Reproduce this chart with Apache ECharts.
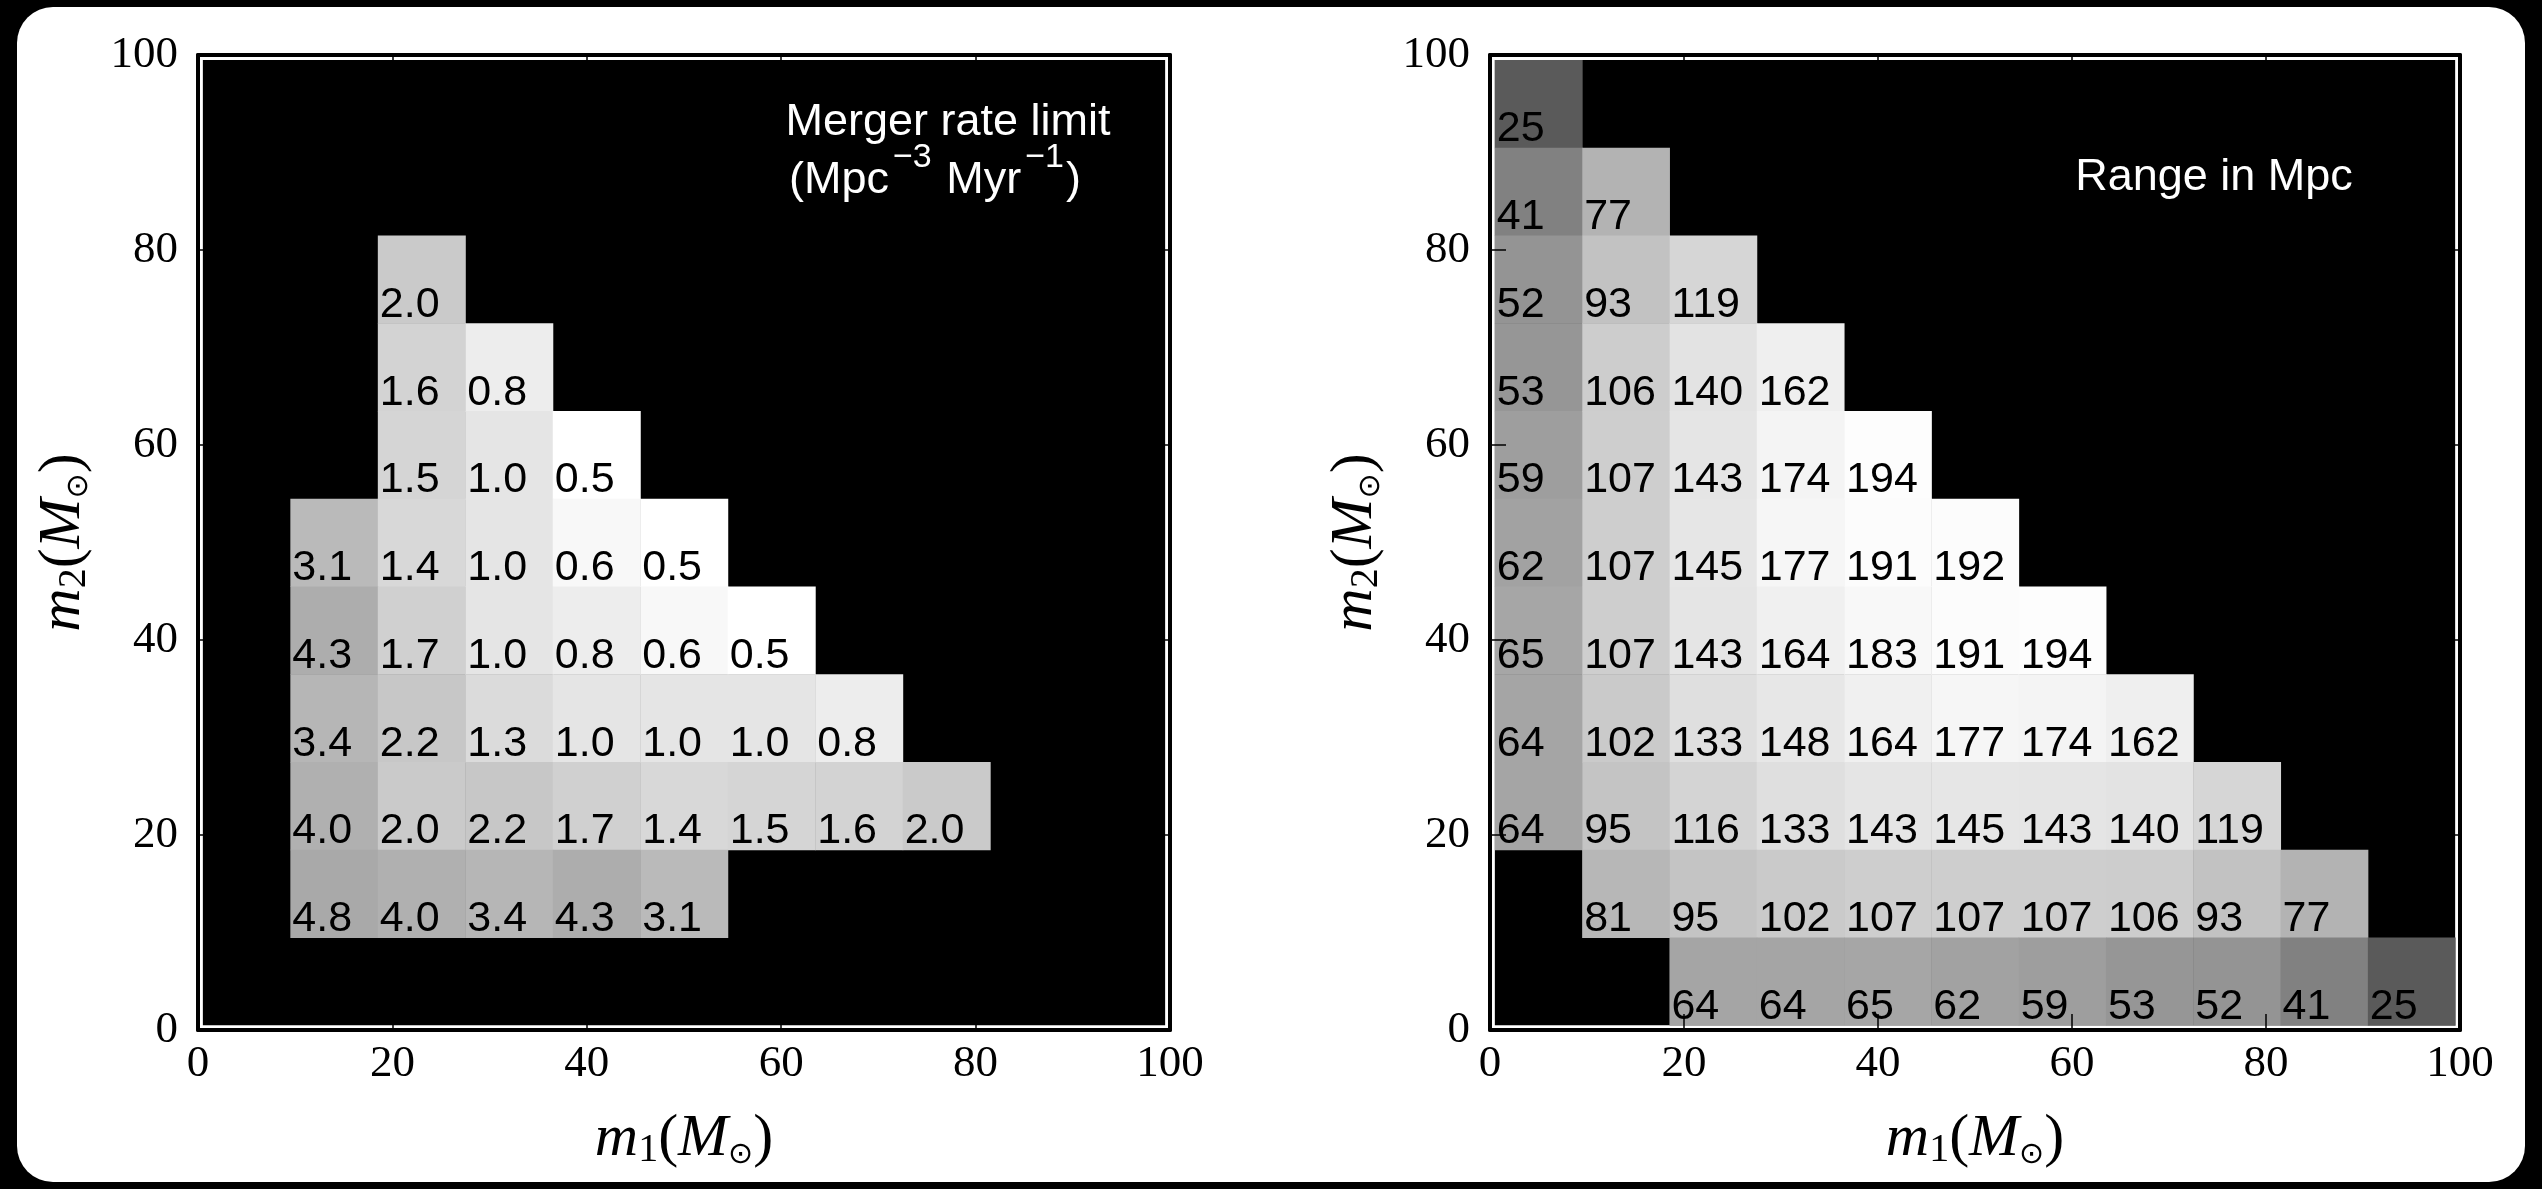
<!DOCTYPE html>
<html><head><meta charset="utf-8">
<script src="https://cdn.jsdelivr.net/npm/echarts@6/dist/echarts.min.js"></script>
<style>html,body{margin:0;padding:0;background:#000;} #c{width:2542px;height:1189px;}</style>
</head><body><div id="c"></div>
<script>
// ---- data ----
const massBins = [5, 14, 23, 32, 41, 50, 59, 68, 77, 86, 95];   // m1 / m2 bin centres (M_sun)
const binHalfWidth = 4.5;
const axisTicks = [0, 20, 40, 60, 80, 100];
// rows from m2 = 95 (top) down to m2 = 5 (bottom); columns m1 = 5 ... 95
const rateLimit = [
  [null, null, null, null, null, null, null, null, null, null, null],
  [null, null, null, null, null, null, null, null, null, null, null],
  [null, null, 2.0, null, null, null, null, null, null, null, null],
  [null, null, 1.6, 0.8, null, null, null, null, null, null, null],
  [null, null, 1.5, 1.0, 0.5, null, null, null, null, null, null],
  [null, 3.1, 1.4, 1.0, 0.6, 0.5, null, null, null, null, null],
  [null, 4.3, 1.7, 1.0, 0.8, 0.6, 0.5, null, null, null, null],
  [null, 3.4, 2.2, 1.3, 1.0, 1.0, 1.0, 0.8, null, null, null],
  [null, 4.0, 2.0, 2.2, 1.7, 1.4, 1.5, 1.6, 2.0, null, null],
  [null, 4.8, 4.0, 3.4, 4.3, 3.1, null, null, null, null, null],
  [null, null, null, null, null, null, null, null, null, null, null]
];
const rangeMpc = [
  [25, null, null, null, null, null, null, null, null, null, null],
  [41, 77, null, null, null, null, null, null, null, null, null],
  [52, 93, 119, null, null, null, null, null, null, null, null],
  [53, 106, 140, 162, null, null, null, null, null, null, null],
  [59, 107, 143, 174, 194, null, null, null, null, null, null],
  [62, 107, 145, 177, 191, 192, null, null, null, null, null],
  [65, 107, 143, 164, 183, 191, 194, null, null, null, null],
  [64, 102, 133, 148, 164, 177, 174, 162, null, null, null],
  [64, 95, 116, 133, 143, 145, 143, 140, 119, null, null],
  [null, 81, 95, 102, 107, 107, 107, 106, 93, 77, null],
  [null, null, 64, 64, 65, 62, 59, 53, 52, 41, 25]
];

// ---- build ----
function toItems(matrix) {
  const out = [];
  const n = massBins.length;
  matrix.forEach((row, i) => row.forEach((v, j) => {
    if (v !== null) out.push([massBins[j], massBins[n - 1 - i], v]);
  }));
  return out;
}
const lo = massBins[0] - binHalfWidth, hi = massBins[massBins.length - 1] + binHalfWidth;

function grayRate(v) { return Math.max(0, Math.min(255, Math.round(255 - 38 * Math.log(v / 0.5)))); }
function grayRange(v) { return Math.max(0, Math.min(255, Math.round(90 + 79.5 * Math.log(v / 25)))); }

function cellRender(grayFn, fmt) {
  return function (params, api) {
    const x = api.value(0), y = api.value(1), v = api.value(2);
    const p0 = api.coord([x - binHalfWidth, y + binHalfWidth]);
    const p1 = api.coord([x + binHalfWidth, y - binHalfWidth]);
    const g = grayFn(v);
    return {
      type: 'group',
      children: [
        { type: 'rect', shape: { x: p0[0], y: p0[1], width: p1[0] - p0[0] + 0.5, height: p1[1] - p0[1] + 0.5 },
          style: { fill: 'rgb(' + g + ',' + g + ',' + g + ')' } },
        { type: 'text', x: p0[0] + 2, y: p1[1] - 18,
          style: { text: fmt(v), fill: '#000', fontSize: 43, fontFamily: '"Liberation Sans", Arial, sans-serif',
                   align: 'left', verticalAlign: 'middle' } }
      ]
    };
  };
}
function bgRender(params, api) {
  const p0 = api.coord([api.value(0), api.value(1)]);
  const p1 = api.coord([api.value(2), api.value(3)]);
  return { type: 'rect', shape: { x: p0[0], y: p0[1], width: p1[0] - p0[0], height: p1[1] - p0[1] }, style: { fill: '#000' } };
}

const serif = '"Liberation Serif", "Times New Roman", serif';
const nameRich = {
  i: { fontFamily: serif, fontStyle: 'italic', fontSize: 60, lineHeight: 62, color: '#000' },
  n: { fontFamily: serif, fontSize: 60, lineHeight: 62, color: '#000' },
  s: { fontFamily: serif, fontSize: 40, lineHeight: 38, verticalAlign: 'bottom', color: '#000' },
  o: { fontFamily: '"DejaVu Sans", sans-serif', fontSize: 30, lineHeight: 34, verticalAlign: 'bottom', color: '#000' }
};

const grids = [
  { left: 198, top: 55, width: 972, height: 975 },
  { left: 1490, top: 55, width: 970, height: 975 }
];
const xAxes = [], yAxes = [];
grids.forEach((g, gi) => {
  const common = {
    type: 'value', gridIndex: gi, min: 0, max: 100, interval: 20, z: 10,
    splitLine: { show: false },
    axisLine: { show: true, onZero: false, lineStyle: { color: '#000', width: 4 } },
    axisTick: { show: true, inside: true, length: 16, customValues: axisTicks, lineStyle: { color: '#000', width: 1.5 } }
  };
  const lab = { show: true, customValues: axisTicks, color: '#000', fontFamily: serif, fontSize: 45 };
  xAxes.push(Object.assign({}, common, {
    position: 'bottom', axisLabel: Object.assign({}, lab, { margin: 12 }),
    name: '{i|m}{s|1}{n|(}{i|M}{o|⊙}{n|)}', nameLocation: 'middle', nameGap: 78,
    nameTextStyle: { rich: nameRich }
  }));
  xAxes.push(Object.assign({}, common, { position: 'top', axisLabel: { show: false } }));
  yAxes.push(Object.assign({}, common, {
    position: 'left', axisLabel: Object.assign({}, lab, { margin: 20 }),
    name: '{i|m}{s|2}{n|(}{i|M}{o|⊙}{n|)}', nameLocation: 'middle', nameGap: 104,
    nameTextStyle: { rich: nameRich }
  }));
  yAxes.push(Object.assign({}, common, { position: 'right', axisLabel: { show: false } }));
});

const sans = '"Liberation Sans", Arial, sans-serif';
const option = {
  backgroundColor: '#000',
  animation: false,
  grid: grids,
  xAxis: xAxes,
  yAxis: yAxes,
  graphic: [
    { type: 'rect', z: -100, shape: { x: 17, y: 7, width: 2508, height: 1175, r: 36 }, style: { fill: '#fff' } },
    { type: 'text', z: 100, x: 948, y: 123, style: { text: 'Merger rate limit', fill: '#fff', fontSize: 45,
        fontFamily: sans, align: 'center', verticalAlign: 'middle' } },
    { type: 'text', z: 100, x: 935, y: 172, style: {
        text: '{n|(Mpc}{s|−3}{n| Myr}{s|−1}{n|)}', align: 'center', verticalAlign: 'middle',
        rich: {
          n: { fill: '#fff', fontSize: 45, lineHeight: 50, fontFamily: sans, verticalAlign: 'bottom' },
          s: { fill: '#fff', fontSize: 34, lineHeight: 62, fontFamily: sans, verticalAlign: 'top', padding: [0, 2, 0, 4] }
        } } },
    { type: 'text', z: 100, x: 2214, y: 178, style: { text: 'Range in Mpc', fill: '#fff', fontSize: 45,
        fontFamily: sans, align: 'center', verticalAlign: 'middle' } }
  ],
  series: [
    { type: 'custom', xAxisIndex: 0, yAxisIndex: 0, z: 1, silent: true, renderItem: bgRender, data: [[lo, hi, hi, lo]] },
    { type: 'custom', xAxisIndex: 0, yAxisIndex: 0, z: 2, silent: true,
      renderItem: cellRender(grayRate, v => v.toFixed(1)), data: toItems(rateLimit) },
    { type: 'custom', xAxisIndex: 2, yAxisIndex: 2, z: 1, silent: true, renderItem: bgRender, data: [[lo, hi, hi, lo]] },
    { type: 'custom', xAxisIndex: 2, yAxisIndex: 2, z: 2, silent: true,
      renderItem: cellRender(grayRange, v => String(v)), data: toItems(rangeMpc) }
  ]
};
const chart = echarts.init(document.getElementById('c'), null, { renderer: 'canvas' });
chart.setOption(option);
</script>
</body></html>
